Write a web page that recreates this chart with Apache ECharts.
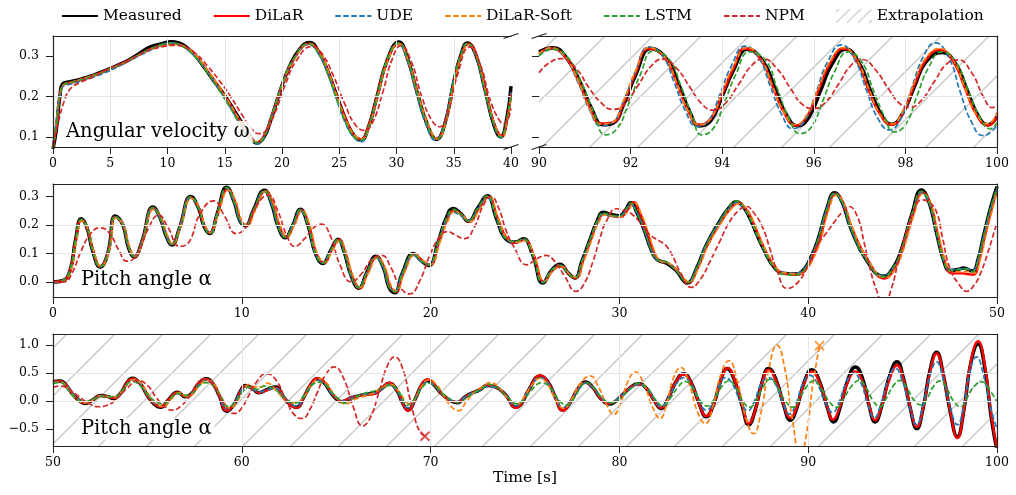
<!DOCTYPE html>
<html>
<head>
<meta charset="utf-8">
<script src="https://cdn.jsdelivr.net/npm/echarts@6/dist/echarts.min.js"></script>
<style>
  html, body { margin: 0; padding: 0; background: #fff; }
  #chart { width: 1016px; height: 495px; }
</style>
</head>
<body>
<div id="chart"></div>
<script>
// ---- data: [time, value] pairs ----

// angular velocity, 0-40 s
var omegaMeasured = [[0,0.07],[0.3,0.12],[0.6,0.2],[0.9,0.232],[1.5,0.236],[2.5,0.243],[3.5,0.252],[4.5,0.263],[5.5,0.275],[6.5,0.288],[7.5,0.305],[8.5,0.322],[9.5,0.33],[10.3,0.335],[11,0.332],[11.8,0.318],[12.5,0.298],[13.3,0.268],[14,0.24],[14.8,0.21],[15.5,0.18],[16.2,0.148],[17,0.112],[17.8,0.085],[18.4,0.098],[19,0.14],[19.8,0.21],[20.6,0.27],[21.5,0.315],[22.4,0.333],[23.2,0.31],[24,0.262],[24.8,0.2],[25.6,0.14],[26.3,0.103],[26.9,0.092],[27.5,0.12],[28.3,0.2],[29.2,0.29],[30.2,0.334],[31,0.29],[31.8,0.21],[32.7,0.13],[33.5,0.094],[34.2,0.13],[35,0.235],[35.6,0.3],[36.2,0.332],[36.9,0.305],[37.7,0.22],[38.5,0.13],[39.1,0.1],[39.6,0.14],[40,0.225]];
var omegaDilar = [[0,0.075],[0.3,0.13],[0.6,0.2],[0.9,0.228],[1.5,0.233],[3,0.246],[4.5,0.262],[6,0.28],[7.5,0.302],[9,0.322],[10.4,0.33],[11.5,0.322],[12.5,0.298],[13.5,0.262],[14.5,0.222],[15.5,0.178],[16.4,0.135],[17.2,0.1],[17.8,0.086],[18.4,0.1],[19.2,0.16],[20.1,0.235],[21,0.29],[22.4,0.33],[23.3,0.305],[24.1,0.255],[24.9,0.19],[25.7,0.135],[26.3,0.103],[26.9,0.094],[27.5,0.122],[28.3,0.2],[29.2,0.29],[30.2,0.33],[31,0.288],[31.8,0.21],[32.7,0.13],[33.5,0.095],[34.2,0.13],[35,0.235],[35.6,0.298],[36.3,0.33],[37,0.3],[37.8,0.21],[38.5,0.135],[39.2,0.102],[39.7,0.15],[40,0.21]];
var omegaUde = [[0,0.08],[0.3,0.14],[0.6,0.2],[1,0.228],[1.5,0.23],[3,0.243],[4.5,0.258],[6,0.278],[7.5,0.3],[9,0.32],[10.3,0.332],[11.4,0.322],[12.5,0.296],[13.5,0.26],[14.5,0.218],[15.5,0.172],[16.4,0.128],[17.2,0.095],[17.8,0.082],[18.4,0.097],[19.2,0.158],[20.1,0.234],[21,0.29],[22.3,0.328],[23.2,0.305],[24,0.258],[24.8,0.19],[25.6,0.13],[26.3,0.098],[26.9,0.088],[27.5,0.118],[28.3,0.198],[29.2,0.29],[30.1,0.33],[30.9,0.292],[31.7,0.21],[32.6,0.128],[33.4,0.092],[34.1,0.125],[34.9,0.23],[35.6,0.3],[36.2,0.33],[36.9,0.302],[37.7,0.215],[38.5,0.13],[39.1,0.098],[39.6,0.135],[40,0.21]];
var omegaSoft = [[0,0.07],[0.3,0.135],[0.6,0.205],[1,0.23],[1.5,0.234],[3,0.247],[4.5,0.262],[6,0.28],[7.5,0.302],[9,0.322],[10.4,0.33],[11.5,0.323],[12.5,0.3],[13.5,0.265],[14.5,0.225],[15.5,0.18],[16.4,0.137],[17.2,0.1],[17.8,0.087],[18.4,0.1],[19.2,0.158],[20.1,0.233],[21,0.288],[22.4,0.33],[23.3,0.307],[24.1,0.258],[24.9,0.192],[25.7,0.135],[26.4,0.102],[27,0.095],[27.6,0.125],[28.4,0.205],[29.3,0.292],[30.2,0.33],[31,0.29],[31.9,0.205],[32.8,0.128],[33.6,0.095],[34.3,0.135],[35.1,0.24],[35.7,0.3],[36.3,0.328],[37,0.298],[37.8,0.21],[38.6,0.13],[39.2,0.1],[39.7,0.145],[40,0.2]];
var omegaLstm = [[0,0.072],[0.3,0.13],[0.6,0.2],[1,0.23],[1.5,0.234],[3,0.246],[4.5,0.262],[6,0.28],[7.5,0.303],[9,0.323],[10.3,0.331],[11.4,0.322],[12.4,0.298],[13.4,0.262],[14.4,0.22],[15.4,0.175],[16.3,0.132],[17.1,0.098],[17.8,0.086],[18.4,0.098],[19.2,0.16],[20.1,0.238],[21,0.292],[22.3,0.33],[23.2,0.305],[24,0.256],[24.8,0.19],[25.6,0.133],[26.3,0.1],[26.9,0.092],[27.5,0.12],[28.3,0.2],[29.2,0.292],[30.2,0.332],[31,0.29],[31.8,0.208],[32.7,0.13],[33.5,0.094],[34.2,0.13],[35,0.238],[35.6,0.3],[36.2,0.331],[36.9,0.303],[37.7,0.215],[38.5,0.132],[39.1,0.1],[39.6,0.14],[40,0.2]];
var omegaNpm = [[0,0.08],[0.5,0.14],[1,0.19],[1.5,0.218],[2.2,0.232],[3.5,0.248],[5,0.27],[6.5,0.287],[8,0.31],[9.5,0.322],[10.6,0.326],[11.5,0.322],[12.5,0.305],[13.5,0.275],[14.5,0.24],[15.5,0.2],[16.5,0.155],[17.3,0.122],[18,0.108],[18.6,0.115],[19.4,0.16],[20.3,0.23],[21.3,0.29],[22.6,0.323],[23.5,0.305],[24.5,0.25],[25.5,0.18],[26.4,0.13],[27.2,0.116],[27.9,0.135],[28.8,0.21],[29.6,0.29],[30.4,0.325],[31.3,0.285],[32.2,0.2],[33.1,0.14],[33.8,0.125],[34.5,0.16],[35.3,0.25],[36.4,0.322],[37.3,0.28],[38.2,0.19],[39,0.14],[39.4,0.132],[40,0.17]];

// angular velocity, 90-100 s
var omegaTailMeasured = [[90,0.31],[90.3,0.32],[90.6,0.295],[90.9,0.235],[91.15,0.17],[91.4,0.13],[91.6,0.133],[91.85,0.18],[92.1,0.25],[92.45,0.318],[92.8,0.29],[93.05,0.23],[93.3,0.16],[93.5,0.127],[93.75,0.14],[94,0.2],[94.25,0.265],[94.55,0.316],[94.9,0.285],[95.15,0.22],[95.4,0.155],[95.65,0.127],[95.9,0.15],[96.15,0.215],[96.4,0.28],[96.7,0.316],[97,0.28],[97.25,0.21],[97.5,0.15],[97.7,0.131],[97.95,0.16],[98.2,0.225],[98.45,0.285],[98.8,0.308],[99.1,0.28],[99.35,0.215],[99.6,0.15],[99.8,0.13],[100,0.15]];
var omegaTailDilar = [[90,0.305],[90.25,0.318],[90.55,0.3],[90.85,0.24],[91.1,0.175],[91.35,0.133],[91.6,0.135],[91.85,0.185],[92.1,0.255],[92.4,0.318],[92.75,0.295],[93,0.235],[93.25,0.165],[93.5,0.13],[93.75,0.145],[94,0.205],[94.25,0.27],[94.5,0.318],[94.85,0.29],[95.1,0.225],[95.35,0.16],[95.6,0.128],[95.85,0.15],[96.1,0.215],[96.35,0.28],[96.65,0.318],[96.95,0.285],[97.2,0.215],[97.45,0.155],[97.7,0.13],[97.95,0.16],[98.2,0.23],[98.45,0.29],[98.75,0.315],[99.05,0.285],[99.3,0.22],[99.55,0.155],[99.8,0.128],[100,0.15]];
var omegaTailUde = [[90,0.3],[90.25,0.318],[90.55,0.298],[90.85,0.235],[91.1,0.168],[91.35,0.128],[91.6,0.135],[91.85,0.19],[92.1,0.26],[92.4,0.322],[92.7,0.3],[92.95,0.235],[93.2,0.163],[93.45,0.126],[93.7,0.14],[93.95,0.205],[94.2,0.275],[94.5,0.324],[94.8,0.295],[95.05,0.225],[95.3,0.155],[95.55,0.12],[95.8,0.14],[96.05,0.21],[96.3,0.285],[96.6,0.327],[96.9,0.29],[97.15,0.215],[97.4,0.145],[97.65,0.117],[97.9,0.145],[98.15,0.225],[98.4,0.3],[98.65,0.332],[98.95,0.295],[99.2,0.21],[99.45,0.135],[99.7,0.103],[99.9,0.115],[100,0.13]];
var omegaTailSoft = [[90,0.305],[90.25,0.32],[90.55,0.3],[90.85,0.24],[91.1,0.172],[91.35,0.132],[91.6,0.136],[91.85,0.19],[92.1,0.26],[92.4,0.32],[92.75,0.296],[93,0.235],[93.25,0.165],[93.5,0.13],[93.75,0.145],[94,0.21],[94.25,0.275],[94.55,0.32],[94.85,0.292],[95.1,0.225],[95.35,0.16],[95.6,0.13],[95.85,0.155],[96.1,0.22],[96.35,0.285],[96.65,0.32],[96.95,0.288],[97.2,0.22],[97.45,0.155],[97.7,0.132],[97.95,0.165],[98.2,0.235],[98.45,0.295],[98.75,0.318],[99.05,0.288],[99.3,0.22],[99.55,0.155],[99.8,0.132],[100,0.16]];
var omegaTailLstm = [[90,0.3],[90.3,0.316],[90.6,0.3],[90.9,0.24],[91.2,0.16],[91.45,0.105],[91.7,0.12],[91.95,0.18],[92.2,0.25],[92.5,0.312],[92.85,0.29],[93.1,0.225],[93.35,0.15],[93.55,0.105],[93.8,0.12],[94.05,0.185],[94.3,0.255],[94.6,0.31],[94.95,0.288],[95.2,0.22],[95.45,0.148],[95.7,0.108],[95.95,0.125],[96.2,0.19],[96.45,0.26],[96.75,0.31],[97.05,0.285],[97.3,0.215],[97.55,0.148],[97.75,0.112],[98,0.13],[98.25,0.2],[98.5,0.27],[98.8,0.31],[99.1,0.285],[99.35,0.22],[99.6,0.155],[99.85,0.12],[100,0.135]];
var omegaTailNpm = [[90,0.258],[90.25,0.285],[90.5,0.293],[90.8,0.27],[91.1,0.22],[91.35,0.185],[91.6,0.168],[91.85,0.178],[92.15,0.225],[92.45,0.275],[92.7,0.292],[93,0.27],[93.3,0.222],[93.55,0.182],[93.8,0.166],[94.05,0.18],[94.35,0.228],[94.65,0.277],[94.9,0.292],[95.2,0.268],[95.5,0.218],[95.75,0.18],[96,0.17],[96.25,0.185],[96.55,0.232],[96.8,0.275],[97.05,0.291],[97.35,0.265],[97.65,0.215],[97.9,0.18],[98.1,0.173],[98.35,0.19],[98.65,0.24],[98.9,0.28],[99.15,0.29],[99.45,0.258],[99.7,0.2],[99.9,0.172],[100,0.178]];

// pitch angle, 0-50 s
var pitchMeasured = [[0,0],[0.5,0.004],[0.9,0.04],[1.2,0.15],[1.5,0.222],[1.8,0.19],[2.1,0.11],[2.5,0.052],[2.9,0.1],[3.3,0.232],[3.7,0.2],[4,0.12],[4.3,0.088],[4.7,0.14],[5.3,0.263],[5.7,0.22],[6,0.16],[6.3,0.13],[6.7,0.19],[7.3,0.3],[7.7,0.26],[8,0.195],[8.3,0.17],[8.7,0.24],[9.2,0.333],[9.6,0.28],[9.9,0.215],[10.2,0.197],[10.6,0.25],[11.2,0.322],[11.6,0.27],[11.9,0.2],[12.3,0.155],[12.7,0.2],[13.1,0.255],[13.5,0.2],[13.9,0.1],[14.3,0.065],[14.7,0.11],[15.1,0.15],[15.4,0.11],[15.8,0.02],[16.2,-0.022],[16.6,0.03],[17.1,0.09],[17.5,0.05],[17.8,-0.02],[18.1,-0.038],[18.5,0.03],[19.1,0.1],[19.5,0.075],[19.9,0.058],[20.4,0.14],[20.8,0.22],[21.2,0.258],[21.6,0.24],[22,0.213],[22.5,0.26],[23,0.303],[23.5,0.22],[24,0.15],[24.5,0.14],[24.9,0.152],[25.4,0.096],[25.95,-0.004],[26.4,0.04],[26.85,0.062],[27.3,0.03],[27.65,0.014],[28,0.07],[28.45,0.15],[28.8,0.21],[29.15,0.245],[29.5,0.238],[30,0.232],[30.3,0.25],[30.6,0.278],[30.95,0.24],[31.3,0.185],[31.7,0.11],[32,0.078],[32.5,0.066],[33,0.04],[33.6,-0.004],[34.1,0.05],[34.6,0.13],[35.3,0.212],[35.8,0.26],[36.2,0.282],[36.6,0.26],[36.9,0.225],[37.6,0.12],[38.3,0.043],[38.8,0.03],[39.3,0.028],[39.7,0.038],[40.1,0.08],[40.5,0.145],[41,0.26],[41.4,0.313],[41.8,0.28],[42.25,0.19],[43.1,0.075],[44,0.02],[44.5,0.05],[44.9,0.107],[45.5,0.24],[46,0.323],[46.4,0.28],[46.8,0.172],[47.2,0.07],[47.5,0.04],[48,0.045],[48.2,0.049],[48.7,0.038],[49,0.08],[49.3,0.165],[49.7,0.27],[50,0.335]];
var pitchDilar = [[0,0],[0.5,0.004],[0.9,0.04],[1.2,0.145],[1.5,0.218],[1.8,0.19],[2.1,0.115],[2.5,0.055],[2.9,0.1],[3.3,0.228],[3.7,0.2],[4,0.125],[4.3,0.09],[4.7,0.14],[5.3,0.26],[5.7,0.222],[6,0.165],[6.3,0.132],[6.7,0.19],[7.3,0.297],[7.7,0.262],[8,0.2],[8.3,0.172],[8.7,0.238],[9.25,0.325],[9.65,0.28],[9.95,0.215],[10.25,0.2],[10.65,0.25],[11.25,0.32],[11.65,0.272],[11.95,0.205],[12.35,0.158],[12.75,0.2],[13.15,0.252],[13.55,0.2],[13.95,0.1],[14.35,0.067],[14.75,0.11],[15.15,0.148],[15.45,0.11],[15.85,0.02],[16.25,-0.022],[16.65,0.03],[17.15,0.087],[17.55,0.05],[17.85,-0.015],[18.15,-0.035],[18.55,0.03],[19.15,0.098],[19.55,0.075],[19.95,0.06],[20.45,0.14],[20.85,0.215],[21.25,0.25],[21.65,0.235],[22.05,0.212],[22.55,0.258],[23.05,0.298],[23.55,0.225],[24.05,0.152],[24.5,0.138],[24.95,0.148],[25.45,0.095],[26,0],[26.45,0.04],[26.9,0.055],[27.35,0.025],[27.7,0.014],[28.05,0.07],[28.5,0.15],[28.85,0.21],[29.2,0.238],[29.55,0.232],[30.05,0.228],[30.4,0.25],[30.75,0.28],[31.1,0.24],[31.45,0.18],[31.8,0.11],[32.1,0.075],[32.6,0.065],[33.1,0.035],[33.65,-0.002],[34.15,0.05],[34.65,0.128],[35.35,0.208],[35.85,0.255],[36.3,0.278],[36.7,0.255],[37,0.222],[37.7,0.115],[38.4,0.04],[38.9,0.028],[39.4,0.026],[39.8,0.038],[40.2,0.08],[40.6,0.145],[41.05,0.258],[41.45,0.31],[41.85,0.278],[42.3,0.192],[43.15,0.078],[44.05,0.012],[44.55,0.045],[44.95,0.105],[45.55,0.235],[46.05,0.315],[46.45,0.278],[46.85,0.17],[47.25,0.068],[47.6,0.03],[48.1,0.03],[48.4,0.028],[48.75,0.025],[49.05,0.075],[49.35,0.16],[49.75,0.265],[50,0.32]];
var pitchUde = [[0,0],[0.5,0.005],[0.9,0.042],[1.2,0.148],[1.5,0.218],[1.8,0.19],[2.1,0.112],[2.5,0.054],[2.9,0.1],[3.3,0.228],[3.7,0.2],[4,0.123],[4.3,0.09],[4.7,0.14],[5.3,0.258],[5.7,0.22],[6,0.163],[6.3,0.132],[6.7,0.19],[7.3,0.296],[7.7,0.26],[8,0.198],[8.3,0.172],[8.7,0.24],[9.2,0.328],[9.6,0.28],[9.9,0.215],[10.2,0.2],[10.6,0.25],[11.2,0.318],[11.6,0.27],[11.9,0.203],[12.3,0.158],[12.7,0.2],[13.1,0.252],[13.5,0.2],[13.9,0.1],[14.3,0.067],[14.7,0.11],[15.1,0.145],[15.4,0.11],[15.8,0.02],[16.2,-0.02],[16.6,0.03],[17.1,0.085],[17.5,0.05],[17.8,-0.015],[18.1,-0.033],[18.5,0.03],[19.1,0.093],[19.5,0.072],[19.9,0.062],[20.4,0.14],[20.8,0.212],[21.2,0.245],[21.6,0.232],[22,0.215],[22.5,0.255],[23,0.295],[23.5,0.222],[24,0.15],[24.5,0.14],[24.9,0.148],[25.4,0.095],[25.95,0],[26.4,0.04],[26.85,0.058],[27.3,0.028],[27.65,0.016],[28,0.07],[28.45,0.148],[28.8,0.205],[29.15,0.238],[29.5,0.232],[30,0.23],[30.3,0.248],[30.6,0.272],[30.95,0.24],[31.3,0.185],[31.7,0.11],[32,0.078],[32.5,0.068],[33,0.042],[33.6,0],[34.1,0.05],[34.6,0.13],[35.3,0.21],[35.8,0.258],[36.2,0.278],[36.6,0.258],[36.9,0.225],[37.6,0.12],[38.3,0.045],[38.8,0.032],[39.3,0.03],[39.7,0.04],[40.1,0.08],[40.5,0.145],[41,0.258],[41.4,0.308],[41.8,0.278],[42.25,0.19],[43.1,0.078],[44,0.022],[44.5,0.05],[44.9,0.105],[45.5,0.235],[46,0.312],[46.4,0.278],[46.8,0.172],[47.2,0.07],[47.5,0.042],[48,0.045],[48.3,0.048],[48.7,0.04],[49,0.08],[49.3,0.162],[49.7,0.265],[50,0.325]];
var pitchSoft = [[0,0],[0.5,0.004],[0.95,0.04],[1.25,0.145],[1.55,0.215],[1.85,0.188],[2.15,0.112],[2.55,0.055],[2.95,0.1],[3.35,0.226],[3.75,0.2],[4.05,0.125],[4.35,0.09],[4.75,0.14],[5.35,0.255],[5.75,0.222],[6.05,0.165],[6.35,0.132],[6.75,0.19],[7.35,0.293],[7.75,0.262],[8.05,0.2],[8.35,0.172],[8.75,0.238],[9.3,0.322],[9.7,0.28],[10,0.215],[10.3,0.2],[10.7,0.25],[11.3,0.318],[11.7,0.272],[12,0.205],[12.4,0.158],[12.8,0.2],[13.2,0.25],[13.6,0.2],[14,0.1],[14.4,0.068],[14.8,0.11],[15.2,0.145],[15.5,0.11],[15.9,0.02],[16.3,-0.018],[16.7,0.03],[17.2,0.085],[17.6,0.05],[17.9,-0.012],[18.2,-0.032],[18.6,0.03],[19.2,0.095],[19.6,0.075],[20,0.062],[20.5,0.14],[20.9,0.212],[21.3,0.248],[21.7,0.232],[22.1,0.212],[22.6,0.255],[23.1,0.297],[23.6,0.222],[24.1,0.15],[24.6,0.14],[25,0.145],[25.5,0.09],[26.05,0.002],[26.5,0.04],[26.95,0.055],[27.4,0.025],[27.75,0.016],[28.1,0.07],[28.55,0.15],[28.9,0.208],[29.25,0.236],[29.6,0.232],[30.1,0.228],[30.45,0.25],[30.8,0.278],[31.15,0.24],[31.5,0.18],[31.85,0.11],[32.15,0.075],[32.65,0.065],[33.15,0.035],[33.7,0],[34.2,0.05],[34.7,0.128],[35.4,0.208],[35.9,0.255],[36.35,0.275],[36.75,0.255],[37.05,0.22],[37.75,0.112],[38.45,0.04],[38.95,0.03],[39.45,0.028],[39.85,0.04],[40.25,0.08],[40.65,0.145],[41.1,0.255],[41.5,0.305],[41.9,0.275],[42.35,0.19],[43.2,0.075],[44.1,0.015],[44.6,0.045],[45,0.105],[45.6,0.235],[46.1,0.31],[46.5,0.275],[46.9,0.17],[47.3,0.068],[47.6,0.035],[48.1,0.035],[48.4,0.036],[48.8,0.03],[49.1,0.075],[49.4,0.16],[49.8,0.265],[50,0.315]];
var pitchLstm = [[0,0],[0.5,0.005],[0.9,0.042],[1.2,0.15],[1.5,0.22],[1.8,0.19],[2.1,0.11],[2.5,0.053],[2.9,0.1],[3.3,0.23],[3.7,0.2],[4,0.122],[4.3,0.089],[4.7,0.14],[5.3,0.262],[5.7,0.22],[6,0.162],[6.3,0.131],[6.7,0.19],[7.3,0.3],[7.7,0.26],[8,0.197],[8.3,0.17],[8.7,0.24],[9.2,0.332],[9.6,0.28],[9.9,0.215],[10.2,0.198],[10.6,0.25],[11.2,0.32],[11.6,0.27],[11.9,0.2],[12.3,0.156],[12.7,0.2],[13.1,0.254],[13.5,0.2],[13.9,0.1],[14.3,0.066],[14.7,0.11],[15.1,0.15],[15.4,0.11],[15.8,0.02],[16.2,-0.02],[16.6,0.03],[17.1,0.088],[17.5,0.05],[17.8,-0.018],[18.1,-0.035],[18.5,0.03],[19.1,0.097],[19.5,0.074],[19.9,0.06],[20.4,0.14],[20.8,0.218],[21.2,0.255],[21.6,0.238],[22,0.214],[22.5,0.26],[23,0.302],[23.5,0.222],[24,0.152],[24.5,0.142],[24.9,0.152],[25.4,0.094],[25.95,-0.003],[26.4,0.04],[26.85,0.058],[27.3,0.028],[27.65,0.015],[28,0.07],[28.45,0.15],[28.8,0.21],[29.15,0.242],[29.5,0.235],[30,0.23],[30.3,0.25],[30.6,0.276],[30.95,0.24],[31.3,0.185],[31.7,0.11],[32,0.078],[32.5,0.068],[33,0.04],[33.6,-0.002],[34.1,0.05],[34.6,0.13],[35.3,0.212],[35.8,0.262],[36.2,0.285],[36.6,0.26],[36.9,0.225],[37.6,0.12],[38.3,0.043],[38.8,0.025],[39.3,0.024],[39.7,0.036],[40.1,0.08],[40.5,0.145],[41,0.26],[41.4,0.312],[41.8,0.28],[42.25,0.19],[43.1,0.075],[44,0.018],[44.5,0.05],[44.9,0.107],[45.5,0.24],[46,0.318],[46.4,0.28],[46.8,0.172],[47.2,0.07],[47.5,0.04],[48,0.044],[48.3,0.046],[48.7,0.036],[49,0.08],[49.3,0.165],[49.7,0.27],[50,0.33]];
var pitchNpm = [[0,0],[0.6,0],[1,0.03],[1.5,0.11],[2,0.17],[2.5,0.19],[3,0.17],[3.5,0.11],[3.9,0.073],[4.4,0.09],[5,0.18],[5.6,0.235],[6.1,0.19],[6.7,0.125],[7.2,0.14],[7.8,0.24],[8.5,0.285],[9.1,0.23],[9.7,0.17],[10.2,0.19],[10.8,0.27],[11.4,0.305],[11.9,0.25],[12.4,0.16],[12.8,0.125],[13.3,0.15],[13.8,0.19],[14.2,0.203],[14.7,0.16],[15.2,0.06],[15.8,0],[16.3,0.025],[16.9,0.08],[17.4,0.093],[17.9,0.05],[18.4,-0.02],[18.9,-0.042],[19.4,0],[20,0.1],[20.5,0.16],[20.9,0.177],[21.3,0.165],[21.8,0.152],[22.3,0.19],[22.8,0.27],[23.2,0.3],[23.6,0.26],[24,0.18],[24.4,0.125],[25.1,0.06],[25.6,0.08],[26.1,0.093],[26.6,0.07],[27.1,0.02],[27.7,-0.033],[28.1,-0.01],[28.6,0.072],[29,0.16],[29.3,0.212],[29.85,0.257],[30.3,0.25],[30.7,0.236],[31.2,0.2],[31.6,0.166],[32.1,0.145],[32.5,0.125],[32.9,0.08],[33.2,0.037],[33.8,-0.019],[34.3,0.01],[34.8,0.072],[35.3,0.14],[35.8,0.207],[36.3,0.25],[36.7,0.265],[37.2,0.235],[37.6,0.189],[38,0.11],[38.3,0.049],[38.9,-0.023],[39.5,0.002],[40,0.06],[40.5,0.13],[41,0.175],[41.4,0.212],[41.8,0.245],[42.15,0.265],[42.6,0.23],[42.95,0.142],[43.3,0.04],[43.6,-0.025],[44,-0.085],[44.4,-0.025],[44.8,0.08],[45.2,0.177],[45.6,0.25],[46,0.288],[46.4,0.28],[46.8,0.245],[47.1,0.16],[47.5,0.049],[48,-0.01],[48.4,-0.033],[48.8,-0.01],[49.1,0.026],[49.5,0.1],[50,0.21]];

// pitch angle, 50-100 s
var pitchTailMeasured = [[50,0.345],[50.4,0.36],[50.7,0.28],[51,0.14],[51.35,0.02],[51.7,-0.04],[52.1,0.02],[52.5,0.1],[52.9,0.08],[53.2,0.05],[53.6,0.15],[53.9,0.32],[54.2,0.41],[54.6,0.32],[55,0.1],[55.35,-0.05],[55.7,-0.11],[56.1,0.02],[56.6,0.16],[57,0.08],[57.3,0.12],[57.7,0.3],[58.1,0.4],[58.45,0.32],[58.8,0.1],[59.2,-0.18],[59.6,-0.05],[59.9,0.16],[60.2,0.28],[60.55,0.23],[60.9,0.15],[61.3,0.2],[61.8,0.25],[62.2,0.08],[62.5,-0.04],[62.9,-0.11],[63.3,0.08],[63.7,0.32],[64,0.4],[64.35,0.33],[64.7,0.16],[65,0.04],[65.3,-0.01],[65.8,0.06],[66.5,0.12],[67,0.14],[67.4,0.22],[67.8,0.32],[68.2,0.2],[68.5,-0.02],[68.8,-0.16],[69.2,0.05],[69.5,0.27],[69.8,0.37],[70.15,0.3],[70.5,0.16],[71,0.02],[71.4,-0.03],[71.8,0.07],[72.1,0.13],[72.6,0.2],[73,0.28],[73.4,0.26],[74,0.1],[74.5,-0.11],[74.8,-0.05],[75.2,0.2],[75.8,0.45],[76.2,0.35],[76.6,0.08],[77,-0.16],[77.4,-0.02],[77.8,0.22],[78.2,0.34],[78.6,0.24],[79,0.05],[79.5,-0.05],[80,0.06],[80.5,0.22],[81,0.31],[81.4,0.24],[81.8,0.04],[82.2,-0.13],[82.6,0.06],[83,0.35],[83.4,0.49],[83.8,0.33],[84.2,-0.02],[84.6,-0.28],[85,-0.05],[85.35,0.35],[85.7,0.58],[86.1,0.37],[86.5,-0.08],[86.85,-0.42],[87.2,-0.15],[87.55,0.33],[87.9,0.58],[88.3,0.38],[88.7,-0.07],[89.05,-0.34],[89.4,-0.12],[89.8,0.35],[90.2,0.56],[90.6,0.35],[91,-0.1],[91.35,-0.37],[91.7,-0.1],[92.1,0.38],[92.5,0.61],[92.9,0.38],[93.2,-0.05],[93.55,-0.37],[93.9,-0.08],[94.3,0.44],[94.7,0.7],[95.05,0.4],[95.4,-0.12],[95.75,-0.49],[96.1,-0.1],[96.45,0.55],[96.8,0.87],[97.15,0.48],[97.5,-0.15],[97.9,-0.64],[98.25,-0.15],[98.6,0.66],[99,1.02],[99.35,0.6],[99.7,-0.3],[100,-0.88]];
var pitchTailDilar = [[50,0.345],[50.4,0.355],[50.7,0.28],[51,0.14],[51.35,0.02],[51.7,-0.035],[52.1,0.02],[52.5,0.095],[52.9,0.08],[53.2,0.055],[53.6,0.15],[53.9,0.32],[54.2,0.4],[54.6,0.32],[55,0.1],[55.35,-0.04],[55.7,-0.1],[56.1,0.02],[56.6,0.155],[57,0.085],[57.3,0.12],[57.7,0.3],[58.1,0.39],[58.45,0.32],[58.8,0.1],[59.2,-0.17],[59.6,-0.05],[59.9,0.15],[60.2,0.27],[60.55,0.23],[60.9,0.15],[61.3,0.19],[61.8,0.24],[62.2,0.08],[62.5,-0.04],[62.9,-0.12],[63.3,0.08],[63.7,0.33],[64.05,0.41],[64.4,0.33],[64.7,0.17],[65,0.05],[65.3,0],[65.8,0.06],[66.5,0.11],[67,0.13],[67.4,0.22],[67.8,0.33],[68.2,0.2],[68.5,-0.02],[68.8,-0.17],[69.2,0.05],[69.5,0.28],[69.85,0.39],[70.2,0.3],[70.5,0.16],[71,0.02],[71.4,-0.02],[71.8,0.07],[72.1,0.13],[72.6,0.2],[73,0.28],[73.4,0.26],[74,0.1],[74.5,-0.12],[74.8,-0.05],[75.2,0.2],[75.8,0.46],[76.2,0.35],[76.6,0.08],[77,-0.17],[77.4,-0.02],[77.8,0.22],[78.2,0.33],[78.6,0.24],[79,0.05],[79.5,-0.04],[80,0.06],[80.5,0.22],[81,0.3],[81.4,0.24],[81.8,0.04],[82.2,-0.12],[82.6,0.06],[83,0.35],[83.4,0.48],[83.8,0.33],[84.2,-0.02],[84.6,-0.27],[85,-0.05],[85.35,0.35],[85.75,0.59],[86.1,0.38],[86.5,-0.06],[86.85,-0.4],[87.2,-0.15],[87.55,0.32],[87.9,0.56],[88.3,0.36],[88.7,-0.06],[89.05,-0.3],[89.4,-0.1],[89.8,0.33],[90.2,0.53],[90.6,0.33],[91,-0.08],[91.3,-0.33],[91.7,-0.08],[92.1,0.34],[92.5,0.53],[92.9,0.33],[93.2,-0.04],[93.55,-0.34],[93.9,-0.07],[94.3,0.38],[94.7,0.64],[95.05,0.38],[95.4,-0.1],[95.75,-0.46],[96.1,-0.1],[96.45,0.52],[96.8,0.85],[97.15,0.48],[97.5,-0.14],[97.9,-0.66],[98.25,-0.14],[98.6,0.68],[99,1.07],[99.35,0.65],[99.7,-0.25],[100,-0.85]];
var pitchTailUde = [[50,0.33],[50.4,0.35],[50.7,0.28],[51,0.15],[51.35,0.03],[51.7,-0.03],[52.1,0.02],[52.5,0.09],[52.9,0.08],[53.2,0.06],[53.6,0.15],[53.9,0.3],[54.2,0.38],[54.6,0.32],[55,0.12],[55.35,-0.03],[55.8,-0.09],[56.2,0.03],[56.6,0.14],[57,0.09],[57.3,0.12],[57.7,0.28],[58.1,0.37],[58.45,0.31],[58.8,0.1],[59.2,-0.14],[59.6,-0.03],[59.9,0.15],[60.2,0.26],[60.55,0.22],[60.9,0.16],[61.3,0.2],[61.8,0.23],[62.2,0.09],[62.5,-0.02],[62.9,-0.09],[63.3,0.08],[63.7,0.3],[64.05,0.37],[64.4,0.31],[64.7,0.16],[65,0.06],[65.4,0],[65.8,0.06],[66.5,0.12],[67,0.14],[67.4,0.21],[67.8,0.3],[68.2,0.19],[68.5,0],[68.8,-0.12],[69.2,0.05],[69.5,0.25],[69.85,0.34],[70.2,0.28],[70.5,0.16],[71,0.03],[71.4,-0.01],[71.8,0.07],[72.1,0.13],[72.6,0.19],[73,0.26],[73.4,0.25],[74,0.1],[74.5,-0.08],[74.8,-0.03],[75.2,0.2],[75.8,0.42],[76.2,0.33],[76.6,0.1],[77,-0.12],[77.4,0],[77.8,0.2],[78.2,0.32],[78.6,0.24],[79,0.07],[79.5,-0.02],[80,0.07],[80.5,0.21],[81,0.3],[81.4,0.24],[81.8,0.06],[82.2,-0.1],[82.6,0.06],[83,0.3],[83.4,0.42],[83.8,0.3],[84.2,0.02],[84.6,-0.16],[85,0],[85.3,0.28],[85.6,0.42],[86,0.3],[86.4,0],[86.8,-0.17],[87.15,0],[87.5,0.3],[87.9,0.42],[88.3,0.28],[88.65,-0.02],[89,-0.23],[89.35,-0.05],[89.7,0.3],[90.1,0.46],[90.5,0.3],[90.9,-0.02],[91.3,-0.2],[91.65,0],[92,0.32],[92.4,0.5],[92.8,0.32],[93.15,-0.05],[93.5,-0.3],[93.85,-0.05],[94.2,0.35],[94.6,0.59],[95,0.35],[95.35,-0.08],[95.75,-0.42],[96.1,-0.05],[96.45,0.45],[96.8,0.7],[97.15,0.4],[97.5,-0.08],[97.9,-0.42],[98.25,-0.05],[98.55,0.5],[98.9,0.79],[99.3,0.45],[99.65,-0.1],[100,-0.5]];
var pitchTailSoft = [[50,0.33],[50.4,0.34],[50.8,0.22],[51.2,0.05],[51.7,-0.03],[52.1,0.02],[52.5,0.09],[52.9,0.08],[53.3,0.07],[53.7,0.2],[54.3,0.39],[54.7,0.3],[55.1,0.1],[55.45,-0.04],[55.85,-0.1],[56.25,0.03],[56.7,0.15],[57.1,0.08],[57.4,0.12],[57.8,0.3],[58.2,0.37],[58.55,0.3],[58.9,0.08],[59.4,-0.12],[59.8,0.02],[60.1,0.2],[60.4,0.3],[60.7,0.25],[61,0.25],[61.35,0.32],[61.8,0.2],[62.3,0.02],[62.8,-0.03],[63.3,0.08],[63.7,0.3],[64.1,0.4],[64.5,0.32],[64.9,0.12],[65.5,-0.05],[65.9,0.02],[66.4,0.08],[66.9,0.13],[67.4,0.23],[67.9,0.3],[68.3,0.18],[68.9,-0.05],[69.2,0.05],[69.5,0.25],[69.9,0.38],[70.3,0.3],[70.7,0.1],[71.1,-0.1],[71.5,-0.17],[71.9,0],[72.3,0.15],[72.7,0.25],[73.2,0.33],[73.6,0.25],[74.1,0.05],[74.6,-0.05],[75,0.1],[75.4,0.3],[75.8,0.41],[76.2,0.3],[76.6,0.05],[77.05,-0.13],[77.5,0.05],[77.9,0.3],[78.45,0.45],[78.9,0.25],[79.3,-0.05],[79.7,-0.24],[80.1,0],[80.45,0.35],[80.85,0.52],[81.3,0.3],[81.75,-0.1],[82.15,-0.31],[82.5,-0.05],[82.85,0.4],[83.25,0.6],[83.7,0.3],[84.15,-0.2],[84.55,-0.4],[84.95,-0.1],[85.35,0.45],[85.8,0.72],[86.25,0.35],[86.7,-0.3],[87.1,-0.58],[87.5,-0.2],[87.9,0.55],[88.35,1.0],[88.75,0.6],[89.15,-0.3],[89.6,-1.0],[89.9,-0.6],[90.25,0.3],[90.6,0.99]];
var pitchTailLstm = [[50,0.32],[50.4,0.33],[50.8,0.2],[51.2,0.05],[51.7,-0.01],[52.1,0.03],[52.5,0.09],[52.9,0.08],[53.3,0.08],[53.7,0.2],[54.2,0.35],[54.6,0.28],[55,0.12],[55.4,0],[55.85,-0.05],[56.2,0.04],[56.6,0.14],[57,0.1],[57.3,0.13],[57.7,0.26],[58.1,0.33],[58.5,0.27],[58.85,0.1],[59.3,-0.1],[59.7,0],[60,0.15],[60.4,0.25],[60.8,0.21],[61.2,0.27],[61.7,0.22],[62.2,0.08],[62.5,0],[62.9,-0.03],[63.3,0.1],[63.7,0.28],[64.1,0.34],[64.5,0.27],[64.8,0.14],[65.2,0.02],[65.5,-0.04],[65.9,0.05],[66.5,0.14],[67,0.18],[67.4,0.23],[67.9,0.28],[68.3,0.17],[68.8,-0.07],[69.2,0.06],[69.5,0.22],[69.9,0.32],[70.3,0.25],[70.7,0.12],[71.1,0.02],[71.5,-0.03],[71.9,0.06],[72.3,0.15],[72.7,0.22],[73.1,0.3],[73.5,0.25],[74,0.1],[74.6,-0.05],[75,0.05],[75.4,0.22],[75.9,0.33],[76.3,0.25],[76.7,0.06],[77.2,-0.07],[77.6,0.05],[77.9,0.22],[78.2,0.33],[78.7,0.22],[79.1,0.05],[79.6,-0.03],[80.1,0.07],[80.6,0.22],[81,0.32],[81.5,0.22],[81.9,0.03],[82.3,-0.08],[82.7,0.05],[83.1,0.25],[83.5,0.35],[83.9,0.22],[84.3,0],[84.65,-0.09],[85.05,0.05],[85.4,0.25],[85.8,0.36],[86.2,0.22],[86.55,-0.01],[86.9,-0.11],[87.3,0.05],[87.6,0.25],[88,0.39],[88.4,0.24],[88.8,0],[89.2,-0.11],[89.55,0.05],[89.9,0.25],[90.3,0.36],[90.7,0.22],[91.1,0],[91.5,-0.11],[91.9,0.06],[92.3,0.27],[92.7,0.37],[93.1,0.22],[93.45,0],[93.8,-0.1],[94.15,0.06],[94.5,0.27],[94.87,0.37],[95.25,0.22],[95.6,0.02],[96,-0.07],[96.35,0.08],[96.65,0.27],[97,0.36],[97.35,0.22],[97.7,0],[98.05,-0.1],[98.45,0.08],[98.8,0.27],[99.2,0.345],[99.6,0.2],[100,-0.01]];
var pitchTailNpm = [[50,0.25],[50.4,0.27],[50.8,0.22],[51.3,0.1],[51.8,-0.02],[52.4,-0.1],[52.9,-0.07],[53.4,0.05],[53.9,0.22],[54.5,0.37],[55,0.28],[55.5,0.05],[56,-0.12],[56.3,-0.16],[56.8,-0.08],[57.3,0.12],[57.6,0.3],[58,0.4],[58.4,0.32],[58.9,0.05],[59.3,-0.17],[59.6,-0.22],[60,-0.12],[60.4,0.12],[60.8,0.35],[61.3,0.49],[61.8,0.38],[62.3,0.05],[62.8,-0.25],[63.2,-0.31],[63.6,-0.15],[64,0.15],[64.4,0.45],[64.9,0.61],[65.4,0.4],[65.9,-0.1],[66.4,-0.44],[66.8,-0.3],[67.3,0.2],[67.7,0.62],[68.1,0.79],[68.5,0.6],[68.9,0.05],[69.2,-0.35],[69.45,-0.55],[69.7,-0.625]];

// end points where a prediction was stopped
var npmStop = [[69.7, -0.625]];
var softStop = [[90.6, 0.99]];

// tick values
var omegaTicks = [0.1, 0.2, 0.3];
var pitchTicks = [0, 0.1, 0.2, 0.3];
var pitchTailTicks = [-0.5, 0, 0.5, 1.0];

// ---- chart ----
var FONT = "'DejaVu Serif', serif";
var myChart = echarts.init(document.getElementById('chart'));

function hatch(size, offset, color, width) {
  var c = document.createElement('canvas');
  c.width = size; c.height = size;
  var ctx = c.getContext('2d');
  ctx.strokeStyle = color;
  ctx.lineWidth = width;
  ctx.beginPath();
  [offset, offset + size].forEach(function (k) {
    ctx.moveTo(-2, k + 2);
    ctx.lineTo(k + 2, -2);
  });
  ctx.stroke();
  return { image: c, repeat: 'repeat' };
}
var areaHatch = hatch(48, 17, '#c6c6c6', 1.3);
var legendHatch = hatch(11, 3, '#cfcfcf', 1.3);

var styles = {
  'Measured':   { color: '#000000', width: 3.5, type: 'solid' },
  'DiLaR':      { color: '#ff0000', width: 2.4, type: 'solid' },
  'UDE':        { color: '#1f77b4', width: 1.7, type: [5.5, 2.5] },
  'DiLaR-Soft': { color: '#ff7f0e', width: 1.7, type: [5.5, 2.5] },
  'LSTM':       { color: '#2ca02c', width: 1.7, type: [5.5, 2.5] },
  'NPM':        { color: '#d62728', width: 1.7, type: [5.5, 2.5] }
};
// x / y axis index of each panel
var axisOf = [[0, 0], [2, 1], [4, 3], [6, 5]];

function line(name, panel, data) {
  var s = styles[name];
  return {
    name: name, type: 'line', data: data,
    xAxisIndex: axisOf[panel][0], yAxisIndex: axisOf[panel][1],
    symbol: 'none', showSymbol: false, smooth: 0.5,
    lineStyle: { color: s.color, width: s.width, type: s.type },
    itemStyle: { color: s.color },
    emphasis: { disabled: true }, z: 2
  };
}
function cross(name, panel, data, color) {
  return {
    name: name, type: 'scatter', data: data,
    xAxisIndex: axisOf[panel][0], yAxisIndex: axisOf[panel][1],
    symbol: 'path://M0,0L10,10M10,0L0,10', symbolSize: 9,
    itemStyle: { color: 'none', borderColor: color, borderWidth: 2 },
    emphasis: { disabled: true }, z: 3
  };
}
function extrapolation(panel, from, to) {
  return {
    name: 'Extrapolation', type: 'bar', data: [],
    xAxisIndex: axisOf[panel][0], yAxisIndex: axisOf[panel][1],
    itemStyle: { color: legendHatch }, z: 1,
    markArea: {
      silent: true,
      itemStyle: { color: areaHatch, borderWidth: 0 },
      data: [[{ xAxis: from }, { xAxis: to }]]
    }
  };
}

function fmt(v) { return (v < 0 ? '\u2212' : '') + Math.abs(v).toFixed(1); }
var frame = { color: '#222', width: 1.2 };
var grid = { show: true, showMinLine: false, showMaxLine: false, lineStyle: { color: '#e6e6e6', width: 1 } };
var label = { fontFamily: FONT, fontSize: 12.5, color: '#000' };

function xAxis(gi, min, max, step, extra) {
  return Object.assign({
    type: 'value', gridIndex: gi, min: min, max: max, interval: step, z: 5,
    axisLine: { show: true, onZero: false, lineStyle: frame },
    axisTick: { length: 7, lineStyle: { color: '#222' } },
    axisLabel: Object.assign({ margin: 10 }, label),
    splitLine: grid
  }, extra || {});
}
function topLine(gi, min, max) {
  return {
    type: 'value', gridIndex: gi, position: 'top', min: min, max: max, z: 6,
    axisLine: { show: true, onZero: false, lineStyle: frame },
    axisTick: { show: false }, axisLabel: { show: false }, splitLine: { show: false }
  };
}
function rightLine(gi, min, max) {
  return {
    type: 'value', gridIndex: gi, position: 'right', min: min, max: max, z: 6,
    axisLine: { show: true, onZero: false, lineStyle: frame },
    axisTick: { show: false }, axisLabel: { show: false }, splitLine: { show: false }
  };
}
function yAxis(gi, min, max, ticks, step, showLine, showLabel) {
  return {
    type: 'value', gridIndex: gi, min: min, max: max, z: 5,
    minInterval: step, maxInterval: step, splitNumber: 3,
    axisLine: { show: showLine, onZero: false, lineStyle: frame },
    axisTick: { length: 7, customValues: ticks, lineStyle: { color: '#222' } },
    axisLabel: Object.assign({ show: showLabel, margin: 14, customValues: ticks, formatter: fmt }, label),
    splitLine: grid
  };
}

var panelText = { fontFamily: FONT, fontSize: 19.5, fontWeight: 'normal', color: '#000' };
function panelTitle(text, left, top) {
  return {
    text: text, left: left, top: top, padding: [1, 3],
    backgroundColor: 'rgba(255,255,255,0.85)', textStyle: panelText
  };
}
function slash(cx, cy) {
  return {
    type: 'line', z: 100,
    shape: { x1: cx - 7.5, y1: cy + 2.5, x2: cx + 7.5, y2: cy - 2.5 },
    style: { stroke: '#222', lineWidth: 1.2 }
  };
}

var option = {
  animation: false,
  backgroundColor: '#fff',
  title: [
    panelTitle('Angular velocity ω', 63, 121),
    panelTitle('Pitch angle α', 78, 269),
    panelTitle('Pitch angle α', 78, 418)
  ],
  legend: {
    top: 3, left: 56, itemGap: 31, itemWidth: 36, itemHeight: 14,
    textStyle: { fontFamily: FONT, fontSize: 15.5, color: '#000' },
    itemStyle: { opacity: 0 },
    selectedMode: false,
    data: ['Measured', 'DiLaR', 'UDE', 'DiLaR-Soft', 'LSTM', 'NPM',
      { name: 'Extrapolation', icon: 'rect', itemStyle: { color: legendHatch, opacity: 1 } }]
  },
  grid: [
    { left: 53, top: 36, width: 458, height: 111 },
    { left: 539, top: 36, width: 458, height: 111 },
    { left: 53, top: 184, width: 944, height: 113 },
    { left: 53, top: 334, width: 944, height: 112 }
  ],
  xAxis: [
    xAxis(0, 0, 40, 5),
    topLine(0, 0, 40),
    xAxis(1, 90, 100, 2),
    topLine(1, 90, 100),
    xAxis(2, 0, 50, 10),
    topLine(2, 0, 50),
    xAxis(3, 50, 100, 10, {
      name: 'Time [s]', nameLocation: 'middle', nameGap: 24,
      nameTextStyle: { fontFamily: FONT, fontSize: 15.5, color: '#000' }
    }),
    topLine(3, 50, 100)
  ],
  yAxis: [
    yAxis(0, 0.075, 0.349, omegaTicks, 0.1, true, true),
    yAxis(1, 0.075, 0.349, omegaTicks, 0.1, false, false),
    rightLine(1, 0.075, 0.349),
    yAxis(2, -0.053, 0.344, pitchTicks, 0.1, true, true),
    rightLine(2, -0.053, 0.344),
    yAxis(3, -0.8, 1.197, pitchTailTicks, 0.5, true, true),
    rightLine(3, -0.8, 1.197)
  ],
  graphic: [slash(511, 36), slash(511, 147), slash(539, 36), slash(539, 147)],
  series: [
    line('Measured', 0, omegaMeasured),
    line('DiLaR', 0, omegaDilar),
    line('UDE', 0, omegaUde),
    line('DiLaR-Soft', 0, omegaSoft),
    line('LSTM', 0, omegaLstm),
    line('NPM', 0, omegaNpm),

    extrapolation(1, 90, 100),
    line('Measured', 1, omegaTailMeasured),
    line('DiLaR', 1, omegaTailDilar),
    line('UDE', 1, omegaTailUde),
    line('DiLaR-Soft', 1, omegaTailSoft),
    line('LSTM', 1, omegaTailLstm),
    line('NPM', 1, omegaTailNpm),

    line('Measured', 2, pitchMeasured),
    line('DiLaR', 2, pitchDilar),
    line('UDE', 2, pitchUde),
    line('DiLaR-Soft', 2, pitchSoft),
    line('LSTM', 2, pitchLstm),
    line('NPM', 2, pitchNpm),

    extrapolation(3, 50, 100),
    line('Measured', 3, pitchTailMeasured),
    line('DiLaR', 3, pitchTailDilar),
    line('UDE', 3, pitchTailUde),
    line('DiLaR-Soft', 3, pitchTailSoft),
    line('LSTM', 3, pitchTailLstm),
    line('NPM', 3, pitchTailNpm),
    cross('NPM stop', 3, npmStop, '#d62728'),
    cross('DiLaR-Soft stop', 3, softStop, '#ff7f0e')
  ]
};

myChart.setOption(option);
</script>
</body>
</html>
